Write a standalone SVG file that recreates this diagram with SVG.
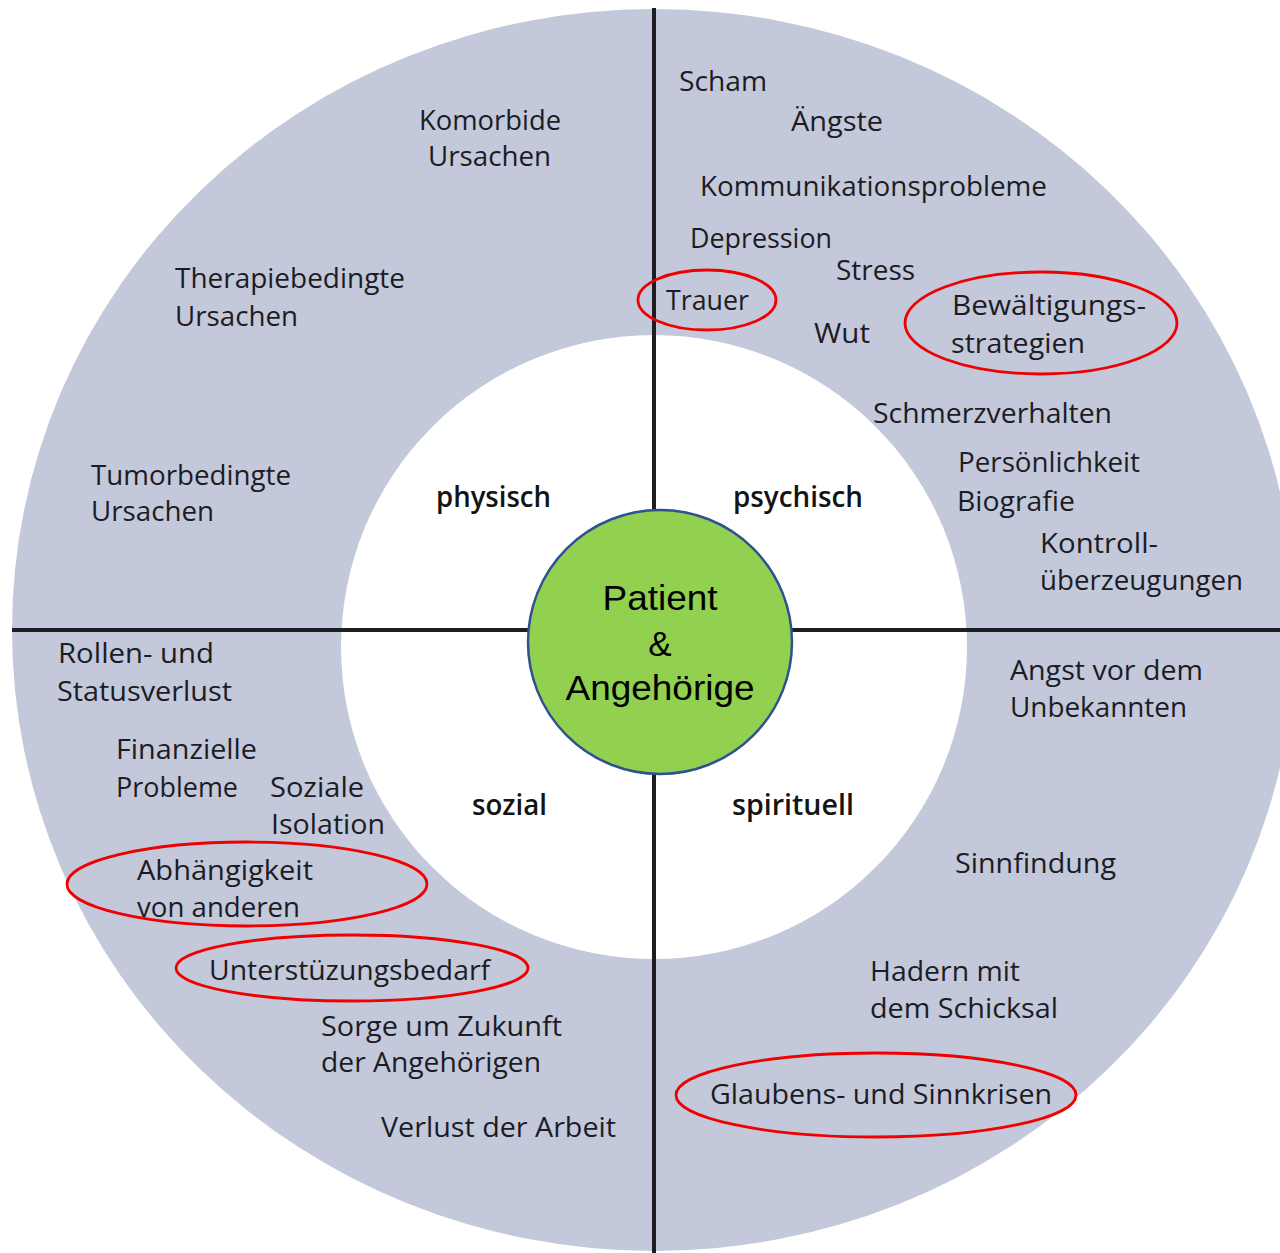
<svg xmlns="http://www.w3.org/2000/svg" width="1280" height="1253" viewBox="0 0 1280 1253">
<style>
.lbl{font-family:"Open Sans","Noto Sans","Liberation Sans",sans-serif;font-size:28px;fill:#1c1c24}
.cat{font-family:"Open Sans","Noto Sans","Liberation Sans",sans-serif;font-size:29px;font-weight:600;fill:#141414}
.mark{fill:none;stroke:#f00000;stroke-width:2.8}
.div{stroke:#1e1e22;stroke-width:4}
</style>
<rect width="1280" height="1253" fill="#ffffff"/>
<g id="ring">
<ellipse cx="654" cy="630" rx="642" ry="621" fill="#c3c8da"/>
<ellipse cx="654" cy="647" rx="313" ry="312" fill="#ffffff"/>
</g>
<g id="connectors">
<line class="div" x1="654" y1="8" x2="654" y2="1253"/>
<line class="div" x1="12" y1="630" x2="1280" y2="630"/>
</g>
<g id="center">
<circle cx="660" cy="642" r="132" fill="#92d050" stroke="#2f528f" stroke-width="2.5"/>
<text x="660" y="610" text-anchor="middle" font-family="Liberation Sans, Arial, sans-serif" font-size="35" textLength="115" lengthAdjust="spacingAndGlyphs">Patient</text>
<text x="660" y="656" text-anchor="middle" font-family="Liberation Sans, Arial, sans-serif" font-size="35">&amp;</text>
<text x="660" y="700" text-anchor="middle" font-family="Liberation Sans, Arial, sans-serif" font-size="35" textLength="189" lengthAdjust="spacingAndGlyphs">Angehörige</text>
</g>
<g id="physisch">
<text class="cat" x="436" y="507" textLength="115" lengthAdjust="spacingAndGlyphs">physisch</text>
<text class="lbl" x="419" y="130" textLength="142" lengthAdjust="spacingAndGlyphs">Komorbide</text>
<text class="lbl" x="428" y="166" textLength="123" lengthAdjust="spacingAndGlyphs">Ursachen</text>
<text class="lbl" x="175" y="288" textLength="230" lengthAdjust="spacingAndGlyphs">Therapiebedingte</text>
<text class="lbl" x="175" y="326" textLength="123" lengthAdjust="spacingAndGlyphs">Ursachen</text>
<text class="lbl" x="91" y="485" textLength="200" lengthAdjust="spacingAndGlyphs">Tumorbedingte</text>
<text class="lbl" x="91" y="521" textLength="123" lengthAdjust="spacingAndGlyphs">Ursachen</text>
</g>
<g id="psychisch">
<text class="cat" x="733" y="507" textLength="130" lengthAdjust="spacingAndGlyphs">psychisch</text>
<text class="lbl" x="679" y="91" textLength="88" lengthAdjust="spacingAndGlyphs">Scham</text>
<text class="lbl" x="791" y="131" textLength="92" lengthAdjust="spacingAndGlyphs">Ängste</text>
<text class="lbl" x="700" y="196" textLength="347" lengthAdjust="spacingAndGlyphs">Kommunikationsprobleme</text>
<text class="lbl" x="690" y="248" textLength="142" lengthAdjust="spacingAndGlyphs">Depression</text>
<text class="lbl" x="836" y="280" textLength="79" lengthAdjust="spacingAndGlyphs">Stress</text>
<text class="lbl" x="666" y="310" textLength="83" lengthAdjust="spacingAndGlyphs">Trauer</text>
<text class="lbl" x="814" y="343" textLength="56" lengthAdjust="spacingAndGlyphs">Wut</text>
<text class="lbl" x="952" y="315" textLength="194" lengthAdjust="spacingAndGlyphs">Bewältigungs-</text>
<text class="lbl" x="951" y="353" textLength="134" lengthAdjust="spacingAndGlyphs">strategien</text>
<text class="lbl" x="873" y="423" textLength="239" lengthAdjust="spacingAndGlyphs">Schmerzverhalten</text>
<text class="lbl" x="958" y="472" textLength="182" lengthAdjust="spacingAndGlyphs">Persönlichkeit</text>
<text class="lbl" x="957" y="511" textLength="118" lengthAdjust="spacingAndGlyphs">Biografie</text>
<text class="lbl" x="1040" y="553" textLength="118" lengthAdjust="spacingAndGlyphs">Kontroll-</text>
<text class="lbl" x="1040" y="590" textLength="203" lengthAdjust="spacingAndGlyphs">überzeugungen</text>
<ellipse class="mark" cx="707" cy="300" rx="69" ry="30"/>
<ellipse class="mark" cx="1041" cy="323" rx="136" ry="51"/>
</g>
<g id="sozial">
<text class="cat" x="472" y="815" textLength="75" lengthAdjust="spacingAndGlyphs">sozial</text>
<text class="lbl" x="58" y="663" textLength="156" lengthAdjust="spacingAndGlyphs">Rollen- und</text>
<text class="lbl" x="57" y="701" textLength="175" lengthAdjust="spacingAndGlyphs">Statusverlust</text>
<text class="lbl" x="116" y="759" textLength="141" lengthAdjust="spacingAndGlyphs">Finanzielle</text>
<text class="lbl" x="116" y="797" textLength="122" lengthAdjust="spacingAndGlyphs">Probleme</text>
<text class="lbl" x="270" y="797" textLength="94" lengthAdjust="spacingAndGlyphs">Soziale</text>
<text class="lbl" x="271" y="834" textLength="114" lengthAdjust="spacingAndGlyphs">Isolation</text>
<text class="lbl" x="137" y="880" textLength="176" lengthAdjust="spacingAndGlyphs">Abhängigkeit</text>
<text class="lbl" x="137" y="917" textLength="163" lengthAdjust="spacingAndGlyphs">von anderen</text>
<text class="lbl" x="209" y="980" textLength="281" lengthAdjust="spacingAndGlyphs">Unterstüzungsbedarf</text>
<text class="lbl" x="321" y="1036" textLength="241" lengthAdjust="spacingAndGlyphs">Sorge um Zukunft</text>
<text class="lbl" x="321" y="1072" textLength="220" lengthAdjust="spacingAndGlyphs">der Angehörigen</text>
<text class="lbl" x="381" y="1137" textLength="235" lengthAdjust="spacingAndGlyphs">Verlust der Arbeit</text>
<ellipse class="mark" cx="247" cy="884" rx="180" ry="42"/>
<ellipse class="mark" cx="352" cy="968" rx="176" ry="33"/>
</g>
<g id="spirituell">
<text class="cat" x="732" y="815" textLength="122" lengthAdjust="spacingAndGlyphs">spirituell</text>
<text class="lbl" x="1010" y="680" textLength="193" lengthAdjust="spacingAndGlyphs">Angst vor dem</text>
<text class="lbl" x="1010" y="717" textLength="177" lengthAdjust="spacingAndGlyphs">Unbekannten</text>
<text class="lbl" x="955" y="873" textLength="161" lengthAdjust="spacingAndGlyphs">Sinnfindung</text>
<text class="lbl" x="870" y="981" textLength="150" lengthAdjust="spacingAndGlyphs">Hadern mit</text>
<text class="lbl" x="870" y="1018" textLength="188" lengthAdjust="spacingAndGlyphs">dem Schicksal</text>
<text class="lbl" x="710" y="1104" textLength="342" lengthAdjust="spacingAndGlyphs">Glaubens- und Sinnkrisen</text>
<ellipse class="mark" cx="876" cy="1095" rx="200" ry="42"/>
</g>
</svg>
